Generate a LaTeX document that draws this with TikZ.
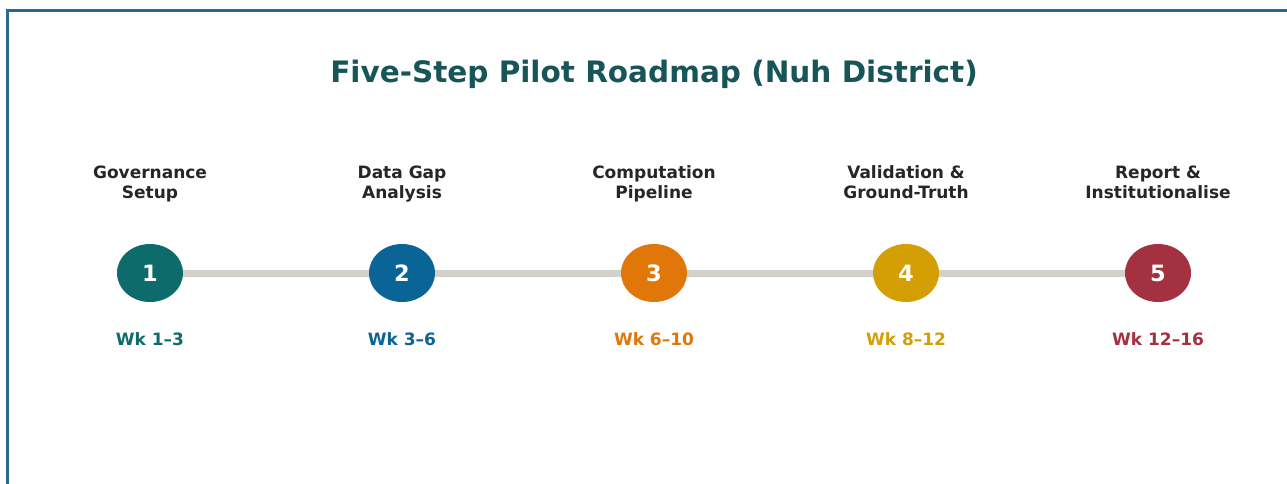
\documentclass[tikz,border=0pt]{standalone}
\usepackage{fontspec}
\setmainfont{DejaVu Sans}
\usetikzlibrary{shapes.geometric}
\definecolor{frameblue}{HTML}{2A6890}
\definecolor{titleteal}{HTML}{175558}
\definecolor{trackgray}{HTML}{D4D0CA}
\definecolor{labelink}{HTML}{262626}
\definecolor{cone}{HTML}{0E6B6B}
\definecolor{ctwo}{HTML}{0B6496}
\definecolor{cthree}{HTML}{E07708}
\definecolor{cfour}{HTML}{D49F04}
\definecolor{cfive}{HTML}{A3313F}
\tikzset{
  stepdot/.style={ellipse, minimum width=66pt, minimum height=58pt, inner sep=0pt,
    text=white, font=\bfseries\fontsize{22.5}{22.5}\selectfont},
  steplabel/.style={align=center, anchor=base, text=labelink, font=\bfseries\fontsize{17}{20}\selectfont},
  weeklabel/.style={font=\bfseries\fontsize{17}{17}\selectfont},
  track/.style={draw=trackgray, line width=7pt}
}
\begin{document}
\begin{tikzpicture}[x=1pt,y=-1pt]
  \fill[white] (0,0) rectangle (1287,484);
  \useasboundingbox (0,0) rectangle (1287,484);
  % outer frame, open on the right and bottom
  \draw[frameblue, line width=2.3pt] (7.5,490) -- (7.5,10.5) -- (1295,10.5);

  \node[text=titleteal, font=\bfseries\fontsize{29.5}{29.5}\selectfont] (title) at (654,74) {Five-Step Pilot Roadmap (Nuh District)};

  % step markers
  \node[stepdot, fill=cone]   (s1) at (150,273)  {1};
  \node[stepdot, fill=ctwo]   (s2) at (402,273)  {2};
  \node[stepdot, fill=cthree] (s3) at (654,273)  {3};
  \node[stepdot, fill=cfour]  (s4) at (906,273)  {4};
  \node[stepdot, fill=cfive]  (s5) at (1158,273) {5};

  % timeline track between the markers
  \draw[track] (s1.east) -- (s2.west);
  \draw[track] (s2.east) -- (s3.west);
  \draw[track] (s3.east) -- (s4.west);
  \draw[track] (s4.east) -- (s5.west);

  % step titles, last baselines aligned
  \node[steplabel] (l1) at (150,198)  {Governance\\Setup};
  \node[steplabel] (l2) at (402,198)  {Data Gap\\Analysis};
  \node[steplabel] (l3) at (654,198)  {Computation\\Pipeline};
  \node[steplabel] (l4) at (906,198)  {Validation \&\\Ground-Truth};
  \node[steplabel] (l5) at (1158,198) {Report \&\\Institutionalise};

  % week ranges
  \node[weeklabel, text=cone]   (w1) at (150,339)  {Wk 1–3};
  \node[weeklabel, text=ctwo]   (w2) at (402,339)  {Wk 3–6};
  \node[weeklabel, text=cthree] (w3) at (654,339)  {Wk 6–10};
  \node[weeklabel, text=cfour]  (w4) at (906,339)  {Wk 8–12};
  \node[weeklabel, text=cfive]  (w5) at (1158,339) {Wk 12–16};
\end{tikzpicture}
\end{document}
